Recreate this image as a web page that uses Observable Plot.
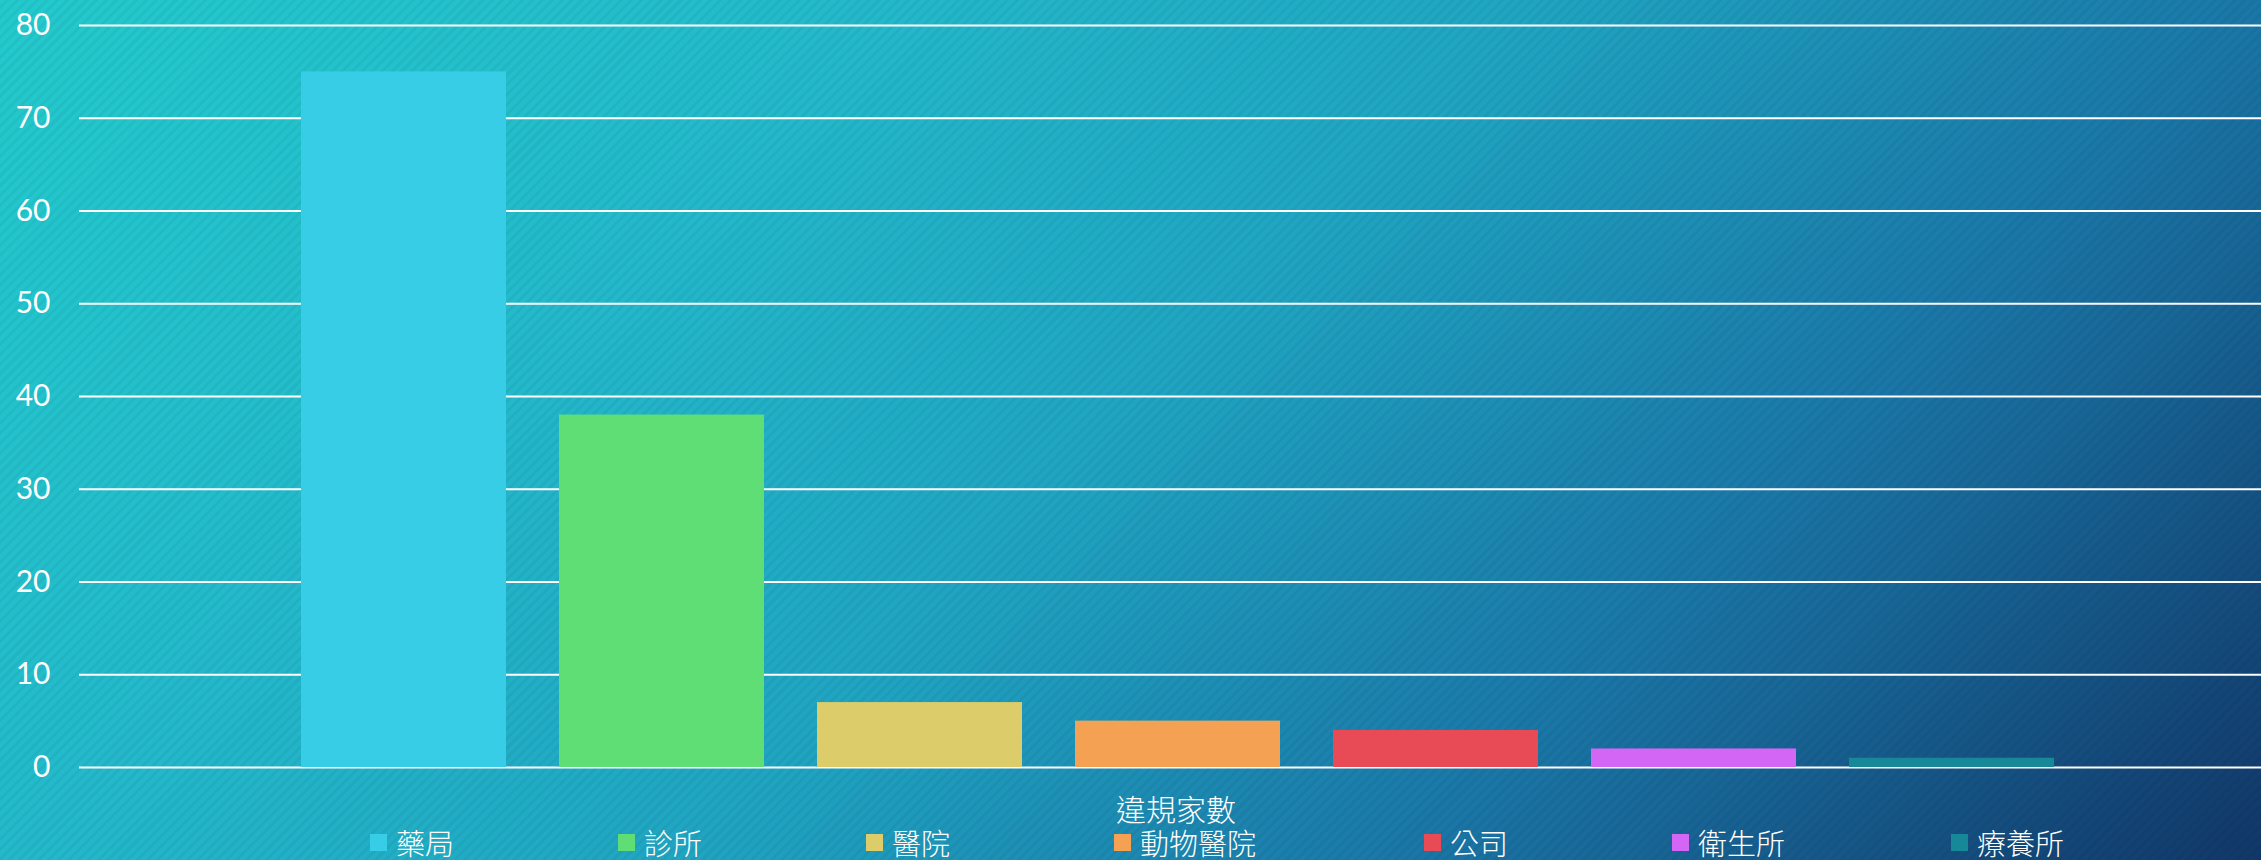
<!DOCTYPE html>
<html>
<head>
<meta charset="utf-8">
<script src="https://cdn.jsdelivr.net/npm/d3@7"></script>
<script src="https://cdn.jsdelivr.net/npm/@observablehq/plot@0.6"></script>
<style>
  html, body { margin: 0; padding: 0; }
  body {
    width: 2261px; height: 860px; overflow: hidden;
    background:
      repeating-linear-gradient(135deg, rgba(0,0,0,0) 0px, rgba(0,0,0,0) 4px, rgba(0,0,0,0.045) 4px, rgba(0,0,0,0.045) 7px),
      linear-gradient(135deg, #22cacd 0%, #23b9cb 28%, #1fa4c1 50%, #1a78a8 72%, #113768 100%);
  }
  #wrap { position: relative; width: 2261px; height: 860px; }
  #chart svg { display: block; overflow: visible; }
  #xlabel {
    position: absolute; left: 1116px; top: 793px;
    color: #fff; white-space: nowrap;
    font-family: "Noto Sans CJK TC", sans-serif; font-weight: 300;
    font-size: 30px; line-height: 30px;
  }
  #legend {
    position: absolute; left: 370px; top: 828px;
    display: flex; align-items: center; color: #fff;
    font-family: "Noto Sans CJK TC", sans-serif; font-weight: 300;
    font-size: 29px; line-height: 29px; white-space: nowrap;
  }
  .item { display: flex; align-items: center; }
  .sw { width: 17px; height: 17px; margin-right: 9px; }
</style>
</head>
<body>
<div id="wrap">
  <div id="chart"></div>
  <div id="xlabel"></div>
  <div id="legend"></div>
</div>
<script>
const categories = ["藥局", "診所", "醫院", "動物醫院", "公司", "衛生所", "療養所"];
const values = [75, 38, 7, 5, 4, 2, 1];
const colors = ["#38cde6", "#60de76", "#dccd6a", "#f5a153", "#e84b55", "#d466f6", "#168898"];
const yTicks = [0, 10, 20, 30, 40, 50, 60, 70, 80];
const seriesName = "違規家數";

const data = categories.map((c, i) => ({category: c, value: values[i]}));

const chart = Plot.plot({
  width: 2261,
  height: 785,
  marginTop: 25,
  marginBottom: 18,
  marginLeft: 79,
  marginRight: 0,
  style: {background: "transparent", color: "#fff", fontFamily: "Lato, 'Open Sans', sans-serif", fontSize: "30px", overflow: "visible"},
  x: {domain: categories, range: [300, 2055], paddingInner: 0.207, paddingOuter: 0, axis: null},
  y: {domain: [0, 80], ticks: yTicks, label: null},
  color: {domain: categories, range: colors},
  marks: [
    Plot.gridY(yTicks, {stroke: "#fff", strokeOpacity: 1, strokeWidth: 2}),
    Plot.axisY(yTicks, {tickSize: 0, tickPadding: 29, fontSize: 30, fill: "#fff", label: null}),
    Plot.barY(data, {x: "category", y: "value", fill: "category"})
  ]
});
document.getElementById("chart").appendChild(chart);

document.getElementById("xlabel").textContent = seriesName;
const legend = document.getElementById("legend");
categories.forEach((c, i) => {
  const item = document.createElement("div");
  item.className = "item";
  if (i < categories.length - 1) item.style.marginRight = (160 + 2 * c.length) + "px";
  const sw = document.createElement("span");
  sw.className = "sw";
  sw.style.background = colors[i];
  const t = document.createElement("span");
  t.textContent = c;
  item.appendChild(sw);
  item.appendChild(t);
  legend.appendChild(item);
});
</script>
</body>
</html>
